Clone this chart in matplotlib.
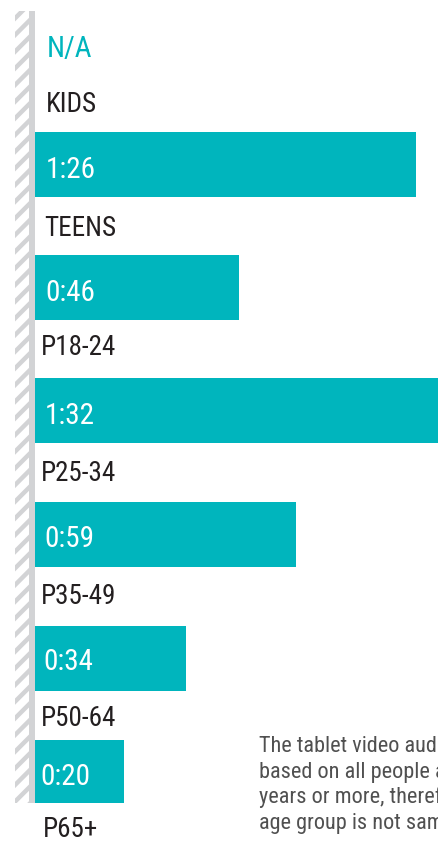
import matplotlib
matplotlib.use('Agg')
import matplotlib.pyplot as plt
from matplotlib.patches import Rectangle

# DATA
groups = ['KIDS', 'TEENS', 'P18-24', 'P25-34', 'P35-49', 'P50-64', 'P65+']
value_labels = ['N/A', '1:26', '0:46', '1:32', '0:59', '0:34', '0:20']
minutes = [None, 86, 46, 92, 59, 34, 20]

# LAYOUT (pixels, figure is 439x841)
W, H = 439, 841
bar_left_px = 35
px_per_min = 4.43
bar_tops = [None, 132, 255, 378, 502, 626, 740]
bar_heights = [None, 65, 65, 65, 65, 65, 63]
value_baselines = [57, 178, 301, 424, 547, 670, 785]
value_x = [47, 46, 45, 45, 44, 43, 40]
label_baselines = [112, 236, 355, 481, 604, 726, 837]
label_x = [46, 44, 41, 41, 41, 41, 43]

teal = '#00b5bd'
stripe_gray = '#d2d3d5'
text_dark = '#231f20'
note_gray = '#505050'

plt.rcParams['hatch.linewidth'] = 3.2

fig = plt.figure(figsize=(W / 100, H / 100), dpi=100)

# bars axes: x in minutes, y in pixels
ax = fig.add_axes([bar_left_px / W, 0, 1 - bar_left_px / W, 1])
ax.set_xlim(0, (W - bar_left_px) / px_per_min)
ax.set_ylim(H, 0)
ax.axis('off')
ax.set_zorder(1)

# decoration / text axes in pixel coords, drawn on top
deco = fig.add_axes([0, 0, 1, 1])
deco.set_xlim(0, W)
deco.set_ylim(H, 0)
deco.axis('off')
deco.set_zorder(2)

# hatched stripe + solid grey stripe on the left
deco.add_patch(Rectangle((15, 11), 14, 792, facecolor='white', edgecolor=stripe_gray,
                         linewidth=0, hatch='//'))
deco.add_patch(Rectangle((29, 11), 6, 792, facecolor=stripe_gray, edgecolor='none'))

for i, m in enumerate(minutes):
    if m is None:
        continue
    ax.barh(bar_tops[i] + bar_heights[i] / 2, m, height=bar_heights[i],
            left=0, color=teal, edgecolor='none')

font = ['Roboto Condensed', 'DejaVu Sans']
for i, g in enumerate(groups):
    vcol = teal if minutes[i] is None else 'white'
    deco.text(value_x[i], value_baselines[i], value_labels[i], color=vcol,
              fontsize=21, family=font, ha='left', va='baseline')
    deco.text(label_x[i], label_baselines[i], g, color=text_dark,
              fontsize=19.5, family=font, ha='left', va='baseline')

# footnote (runs off the right edge like the original)
note_lines = ['The tablet video audience is',
              'based on all people aged 12',
              'years or more, therefore the kids',
              'age group is not sampled.']
for k, line in enumerate(note_lines):
    deco.text(259, 752 + k * 25.7, line, color=note_gray, fontsize=16,
              family=font, ha='left', va='baseline', clip_on=True)

fig.savefig('out.png', dpi=100)
